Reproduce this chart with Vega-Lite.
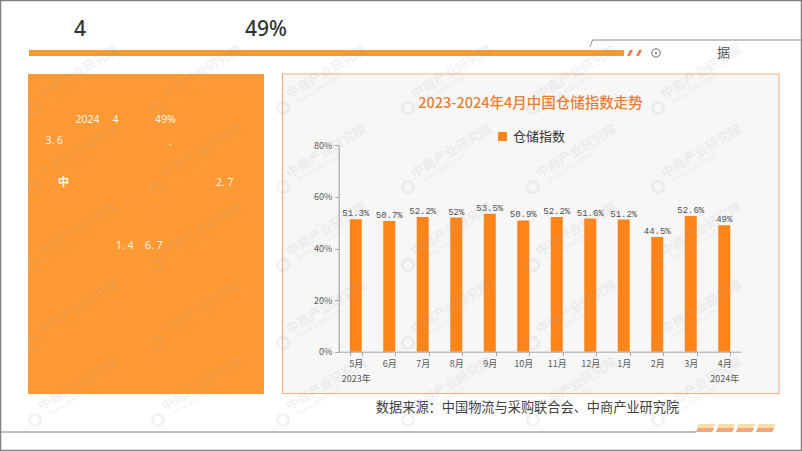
{"$schema":"https://vega.github.io/schema/vega-lite/v6.json","width":802,"height":451,"padding":0,"autosize":{"type":"none"},"background":"#ffffff","config":{"view":{"stroke":null},"font":"Noto Sans CJK SC"},
"datasets":{"index":[
{"month":"5月","series":"仓储指数","value":51.3,"label":"51.3%"},
{"month":"6月","series":"仓储指数","value":50.7,"label":"50.7%"},
{"month":"7月","series":"仓储指数","value":52.2,"label":"52.2%"},
{"month":"8月","series":"仓储指数","value":52,"label":"52%"},
{"month":"9月","series":"仓储指数","value":53.5,"label":"53.5%"},
{"month":"10月","series":"仓储指数","value":50.9,"label":"50.9%"},
{"month":"11月","series":"仓储指数","value":52.2,"label":"52.2%"},
{"month":"12月","series":"仓储指数","value":51.6,"label":"51.6%"},
{"month":"1月","series":"仓储指数","value":51.2,"label":"51.2%"},
{"month":"2月","series":"仓储指数","value":44.5,"label":"44.5%"},
{"month":"3月","series":"仓储指数","value":52.6,"label":"52.6%"},
{"month":"4月","series":"仓储指数","value":49,"label":"49%"}
]},
"layer":[
{"encoding":{"x":{"field":"x","type":"quantitative","scale":{"domain":[0,802],"range":[0,802]},"axis":null},"y":{"field":"y","type":"quantitative","scale":{"domain":[0,451],"range":[0,451]},"axis":null}},
"layer":[
{"data":{"values":[{"x":0.5,"x2":801.5,"y":0.5,"y2":450.5}]},"mark":{"type":"rect","fill":null,"stroke":"#808080","strokeWidth":1.5},"encoding":{"x2":{"field":"x2"},"y2":{"field":"y2"}}},
{"data":{"values":[{"x":28,"x2":264,"y":74,"y2":394}]},"mark":{"type":"rect","fill":"#FF9933"},"encoding":{"x2":{"field":"x2"},"y2":{"field":"y2"}}},
{"data":{"values":[{"x":282.5,"x2":779,"y":74,"y2":393.5}]},"mark":{"type":"rect","fill":"#F7F7F7","stroke":"#F4B183","strokeWidth":1.2},"encoding":{"x2":{"field":"x2"},"y2":{"field":"y2"}}},
{"data":{"values":[{"x":29,"x2":624,"y":50,"y2":56}]},"mark":{"type":"rect","fill":"#F79A33"},"encoding":{"x2":{"field":"x2"},"y2":{"field":"y2"}}},
{"data":{"values":[{"x":630,"y":53},{"x":639,"y":53}]},"mark":{"type":"point","shape":"M-1,1L0,-1L1,-1L0,1Z","size":36,"filled":true,"fill":"#F47B4A","opacity":1}},
{"data":{"values":[{"x":706,"y":426},{"x":726,"y":426},{"x":746,"y":426},{"x":766,"y":426}]},"mark":{"type":"point","shape":"M-4.6,1L-3.6,-1L4.6,-1L3.6,1Z","size":16,"filled":true,"fill":"#F9DDA8","opacity":1}},
{"data":{"values":[{"x":705,"y":430},{"x":725,"y":430},{"x":745,"y":430},{"x":765,"y":430}]},"mark":{"type":"point","shape":"M-4.6,1L-3.6,-1L4.6,-1L3.6,1Z","size":16,"filled":true,"fill":"#F4A47C","opacity":1}},
{"data":{"values":[{"x":590,"y":47},{"x":592.5,"y":40},{"x":802,"y":40}]},"mark":{"type":"line","color":"#8C8C8C","strokeWidth":1}},
{"data":{"values":[{"x":0,"y":432},{"x":696,"y":432}]},"mark":{"type":"line","color":"#808080","strokeWidth":1}},
{"data":{"values":[{"x":656,"y":53}]},"mark":{"type":"point","shape":"circle","size":70,"stroke":"#666666","fill":null,"strokeWidth":1,"opacity":1}},
{"data":{"values":[{"x":656,"y":53}]},"mark":{"type":"point","shape":"circle","size":5,"filled":true,"fill":"#666666","opacity":1}},
{"data":{"values":[{"x":74,"y":30,"t":"4"},{"x":245,"y":30,"t":"49%"}]},"mark":{"type":"text","align":"left","baseline":"middle","fontSize":21,"fontWeight":500,"fill":"#333333","font":"Noto Sans"},"encoding":{"text":{"field":"t"}}},
{"data":{"values":[{"x":717,"y":53,"t":"据"}]},"mark":{"type":"text","align":"left","baseline":"middle","fontSize":13,"fill":"#555555"},"encoding":{"text":{"field":"t"}}},
{"data":{"values":[{"x":75.5,"y":120,"t":"2024"},{"x":112.5,"y":120,"t":"4"},{"x":155,"y":120,"t":"49%"},{"x":45.5,"y":141,"t":"3. 6"},{"x":169,"y":142,"t":"."},{"x":216,"y":183,"t":"2. 7"},{"x":116,"y":246,"t":"1. 4"},{"x":145,"y":246,"t":"6. 7"}]},"mark":{"type":"text","align":"left","baseline":"middle","fontSize":10.5,"fill":"#FFF4E6","font":"Noto Sans"},"encoding":{"text":{"field":"t"}}},
{"data":{"values":[{"x":58,"y":183,"t":"中"}]},"mark":{"type":"text","align":"left","baseline":"middle","fontSize":11,"fontWeight":700,"fill":"#FFFFFF"},"encoding":{"text":{"field":"t"}}},
{"data":{"values":[{"x":530.5,"y":104,"t":"2023-2024年4月中国仓储指数走势"}]},"mark":{"type":"text","align":"center","baseline":"middle","fontSize":14.5,"fontWeight":500,"fill":"#ED7D31"},"encoding":{"text":{"field":"t"}}},
{"data":{"values":[{"x":527.5,"y":408,"t":"数据来源：中国物流与采购联合会、中商产业研究院"}]},"mark":{"type":"text","align":"center","baseline":"middle","fontSize":13.2,"fill":"#404040"},"encoding":{"text":{"field":"t"}}}
]},
{"data":{"name":"index"},"mark":{"type":"bar","size":12},
"encoding":{"x":{"field":"month","type":"ordinal","sort":null,"title":null,"scale":{"range":[339,741],"paddingInner":0.64,"paddingOuter":0.32},
"axis":{"zindex":1,"orient":"bottom","offset":-99.3,"labelAngle":0,"labelFontSize":9,"labelColor":"#595959","labelFont":"Noto Sans CJK SC","labelOverlap":false,"labelLineHeight":15,"labelPadding":4,"tickBand":"extent","tickSize":4,"tickColor":"#A6A6A6","domainColor":"#A6A6A6","labelExpr":"datum.label=='5月'?['5月','2023年']:datum.label=='4月'?['4月','2024年']:datum.label"}},
"y":{"field":"value","type":"quantitative","title":null,"scale":{"domain":[0,80],"range":[351.7,145.3]},
"axis":{"zindex":1,"orient":"left","offset":-338.7,"values":[0,20,40,60,80],"grid":false,"labelFontSize":9,"labelColor":"#595959","labelFont":"Noto Sans CJK SC","labelPadding":3,"tickSize":4,"tickColor":"#A6A6A6","domainColor":"#A6A6A6","domainWidth":1.2,"labelExpr":"datum.value+'%'"}},
"color":{"field":"series","type":"nominal","title":null,"scale":{"domain":["仓储指数"],"range":["#FF8419"]},"legend":{"orient":"none","legendX":496,"legendY":130,"symbolType":"square","symbolSize":80,"labelFontSize":13,"labelColor":"#333333","labelFont":"Noto Sans CJK SC"}}}},
{"data":{"name":"index"},"mark":{"type":"text","baseline":"bottom","dy":-1,"fontSize":9,"font":"Liberation Mono","fill":"#505050"},
"encoding":{"x":{"field":"month","type":"ordinal","sort":null,"title":null,"scale":{"range":[339,741],"paddingInner":0.64,"paddingOuter":0.32},"axis":null},
"y":{"field":"value","type":"quantitative","title":null,"scale":{"domain":[0,80],"range":[351.7,145.3]},"axis":null},"text":{"field":"label"}}},
{"encoding":{"x":{"field":"x","type":"quantitative","scale":{"domain":[0,802],"range":[0,802]},"axis":null},"y":{"field":"y","type":"quantitative","scale":{"domain":[0,451],"range":[0,451]},"axis":null}},
"data":{"values":[
{"x":35,"y":108},{"x":158,"y":108},{"x":283,"y":108},{"x":408,"y":108},{"x":533,"y":108},{"x":658,"y":108},
{"x":35,"y":187},{"x":158,"y":187},{"x":283,"y":187},{"x":408,"y":187},{"x":533,"y":187},{"x":658,"y":187},
{"x":35,"y":265},{"x":158,"y":265},{"x":283,"y":265},{"x":408,"y":265},{"x":533,"y":265},{"x":658,"y":265},
{"x":35,"y":343},{"x":158,"y":343},{"x":283,"y":343},{"x":408,"y":343},{"x":533,"y":343},{"x":658,"y":343},
{"x":35,"y":420},{"x":158,"y":420},{"x":283,"y":420},{"x":408,"y":420},{"x":533,"y":420},{"x":658,"y":420}
]},
"layer":[
{"mark":{"type":"point","shape":"circle","size":130,"stroke":"#999999","strokeWidth":3,"fill":null,"opacity":0.12}},
{"mark":{"type":"text","text":"中商产业研究院","align":"left","baseline":"middle","angle":-31,"fontSize":13,"fontWeight":700,"dx":10,"dy":-8,"fill":"#999999","opacity":0.12}},
{"mark":{"type":"text","text":"www.askci.com","align":"left","baseline":"middle","angle":-31,"fontSize":7,"dx":16,"dy":2,"fill":"#999999","opacity":0.12}}
]}
],
"resolve":{"scale":{"x":"independent","y":"independent","color":"independent"},"axis":{"x":"independent","y":"independent"}}}
